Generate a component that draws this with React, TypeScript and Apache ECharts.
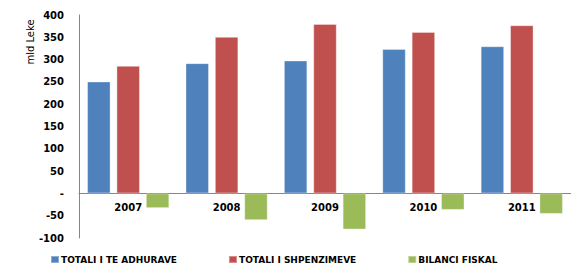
import React, { useEffect, useRef } from "react";
import * as echarts from "echarts";

const categories = ["2007", "2008", "2009", "2010", "2011"];
const seriesNames = ["TOTALI I TE ADHURAVE", "TOTALI I SHPENZIMEVE", "BILANCI FISKAL"];
const revenues = [251, 292, 298, 324, 330];
const expenditures = [286, 351, 380, 362, 377];
const fiscalBalance = [-33, -60, -81, -37, -46];
const colors = ["#4F81BD", "#C0504D", "#9BBB59"];
const yMin = -100;
const yMax = 400;
const yInterval = 50;

export default function App() {
  const ref = useRef<HTMLDivElement>(null);
  useEffect(() => {
    if (!ref.current) return;
    const chart = echarts.init(ref.current, null, { renderer: "svg" });
    const font = "'DejaVu Sans', sans-serif";
    chart.setOption({
      animation: false,
      grid: { left: 79, right: -9.5, top: 15, bottom: 25, containLabel: false },
      legend: {
        data: seriesNames,
        left: 50,
        top: 255,
        itemWidth: 8,
        itemHeight: 7,
        itemGap: 51,
        padding: 0,
        icon: "rect",
        textStyle: { fontFamily: font, fontWeight: "bold", fontSize: 9, color: "#000", padding: [0, 0, 0, -3] },
      },
      graphic: [
        {
          type: "text",
          x: 30,
          y: 42,
          rotation: Math.PI / 2,
          style: {
            text: "mld Leke",
            fontFamily: font,
            fontSize: 10,
            fill: "#000",
            align: "center",
            verticalAlign: "middle",
          },
        },
      ],
      xAxis: {
        type: "category",
        data: categories,
        offset: -44.6,
        axisLine: { onZero: false, lineStyle: { color: "#868686", width: 1 } },
        axisTick: { show: false },
        axisLabel: { fontFamily: font, fontWeight: "bold", fontSize: 10, color: "#000", margin: 9 },
      },
      yAxis: {
        type: "value",
        min: yMin,
        max: yMax,
        interval: yInterval,
        axisLine: { show: true, lineStyle: { color: "#868686", width: 1 } },
        axisTick: { show: false },
        splitLine: { show: false },
        axisLabel: {
          fontFamily: font,
          fontWeight: "bold",
          fontSize: 10,
          color: "#000",
          margin: 15,
          formatter: (v: number) => (v === 0 ? "-" : String(v)),
        },
      },
      series: [revenues, expenditures, fiscalBalance].map((d, i) => ({
        name: seriesNames[i],
        type: "bar",
        data: d,
        barWidth: 23.5,
        barGap: "25%",
        itemStyle: { color: colors[i], borderColor: "rgba(255,255,255,0.35)", borderWidth: 1 },
      })),
    });
    return () => chart.dispose();
  }, []);
  return (
    <div
      ref={ref}
      style={{ position: "absolute", left: 0, top: 0, width: 571, height: 263, overflow: "hidden" }}
    />
  );
}
